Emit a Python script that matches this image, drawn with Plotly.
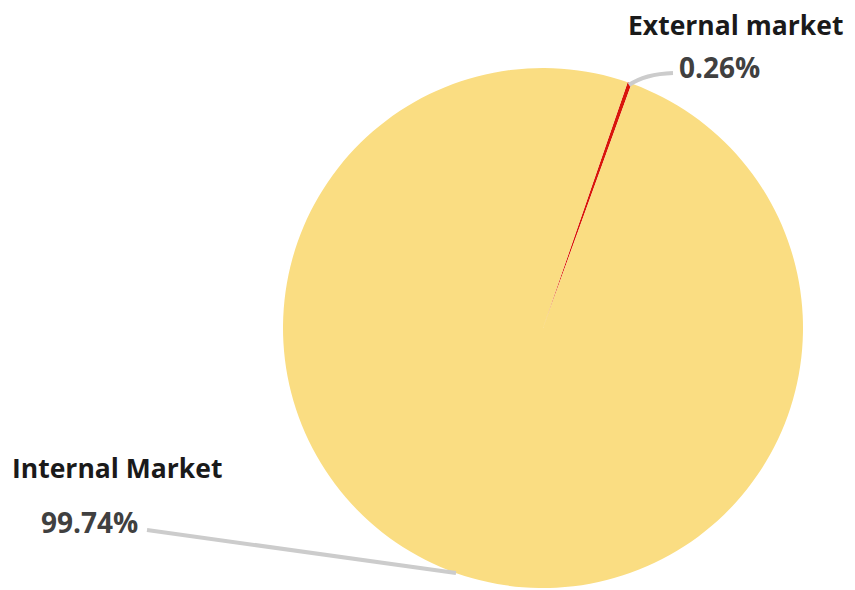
import plotly.graph_objects as go

labels = ["External market", "Internal Market"]
values = [0.26, 99.74]
pct_text = ["0.26%", "99.74%"]
colors = ["#d9150b", "#fadd82"]

W, H = 855, 590

def px(x):
    return x / W

def py(y):
    return 1 - y / H

fig = go.Figure(go.Pie(
    labels=labels,
    values=values,
    sort=False,
    direction="clockwise",
    rotation=19,
    marker=dict(colors=colors, line=dict(width=0)),
    textinfo="none",
    hoverinfo="label+percent",
    showlegend=False,
    domain=dict(x=[px(283), px(803)], y=[py(588), py(68)]),
))

line_col = "#cccccc"
# leader lines
fig.add_shape(type="path", xref="paper", yref="paper",
              path=f"M {px(629)} {py(85)} Q {px(645)} {py(74)} {px(673)} {py(73)}",
              line=dict(color=line_col, width=4))
fig.add_shape(type="line", xref="paper", yref="paper",
              x0=px(147), y0=py(530), x1=px(456), y1=py(573),
              line=dict(color=line_col, width=4))

label_font = dict(family="Open Sans", size=26.5, color="#1a1a1a")
pct_font = dict(family="Open Sans", size=28, color="#404040")

anns = [
    (labels[0], 626, 25, label_font),
    (pct_text[0], 677, 67, pct_font),
    (labels[1], 10, 468, label_font),
    (pct_text[1], 39, 522, pct_font),
]
for txt, x, y, f in anns:
    fig.add_annotation(text=f"<b>{txt}</b>", x=px(x), y=py(y), xref="paper", yref="paper",
                       xanchor="left", yanchor="middle", showarrow=False, font=f)

fig.update_layout(width=W, height=H, margin=dict(l=0, r=0, t=0, b=0),
                  paper_bgcolor="white", plot_bgcolor="white")

fig.write_html("out.html")
